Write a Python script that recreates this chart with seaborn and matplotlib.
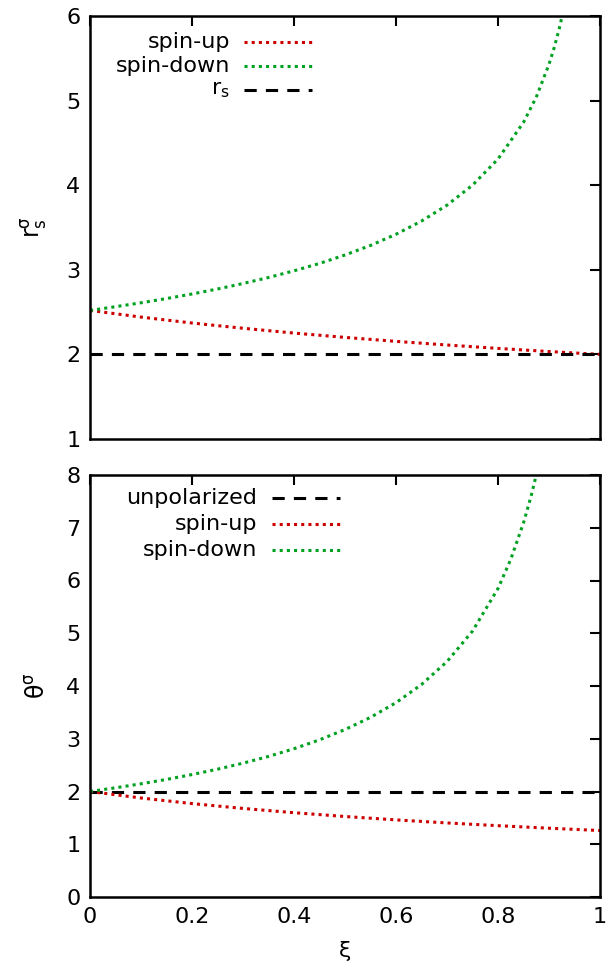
import matplotlib
matplotlib.use("Agg")
import matplotlib.pyplot as plt
import seaborn as sns

# values
xi_up = [0.0, 0.1, 0.2, 0.3, 0.4, 0.5, 0.6, 0.7, 0.8, 0.9, 1.0]
rs_up = [2.520, 2.441, 2.371, 2.309, 2.252, 2.201, 2.154, 2.111, 2.071, 2.034, 2.000]

xi_down = [0.0, 0.05, 0.1, 0.15, 0.2, 0.25, 0.3, 0.35, 0.4, 0.45, 0.5, 0.55, 0.6,
           0.65, 0.7, 0.75, 0.8, 0.85, 0.875, 0.9, 0.91, 0.92, 0.93]
rs_down = [2.520, 2.564, 2.610, 2.660, 2.714, 2.773, 2.838, 2.909, 2.988, 3.075, 3.175,
           3.288, 3.420, 3.576, 3.764, 4.000, 4.309, 4.743, 5.040, 5.429, 5.622, 5.848, 6.113]

xi_line = [0.0, 1.0]
rs_line = [2.0, 2.0]

th_up = [2.000, 1.877, 1.771, 1.679, 1.598, 1.526, 1.462, 1.404, 1.352, 1.304, 1.260]

xi_thdown = [0.0, 0.05, 0.1, 0.15, 0.2, 0.25, 0.3, 0.35, 0.4, 0.45, 0.5, 0.55, 0.6,
             0.65, 0.7, 0.75, 0.8, 0.825, 0.85, 0.865, 0.875, 0.88]
th_down = [2.000, 2.070, 2.146, 2.229, 2.321, 2.423, 2.537, 2.665, 2.811, 2.979, 3.175,
           3.405, 3.684, 4.028, 4.463, 5.040, 5.848, 6.401, 7.093, 7.602, 8.000, 8.224]
th_line = [2.0, 2.0]

xticks = [0, 0.2, 0.4, 0.6, 0.8, 1]
xticklabels = ["0", "0.2", "0.4", "0.6", "0.8", "1"]

sns.set_style("white")
plt.rcParams["font.family"] = ["DejaVu Sans"]
plt.rcParams["font.size"] = 16
plt.rcParams["text.color"] = "black"
plt.rcParams["axes.labelcolor"] = "black"

RED = "#cc0000"
GREEN = "#00a020"
LW = 2.2
dotted = (0, (1, 1.35))
dashed = (0, (4, 3))

fig = plt.figure(figsize=(6.1, 9.75), dpi=100)
ax1 = fig.add_axes([90 / 610, 1 - 439 / 975, 510 / 610, 423 / 975])
ax2 = fig.add_axes([90 / 610, 1 - 897 / 975, 510 / 610, 422 / 975])


def style(ax, ylim, yticks):
    ax.set_xlim(0, 1)
    ax.set_ylim(*ylim)
    ax.set_xticks(xticks)
    ax.set_yticks(yticks)
    for s in ax.spines.values():
        s.set_linewidth(1.8)
        s.set_color("black")
        s.set_visible(True)
    ax.tick_params(direction="in", length=7, width=1.5, top=True, right=True,
                   labelsize=16, pad=7, colors="black")


def key(ax, rows, xt, x0, x1, y0, dy):
    for i, (label, color, ls) in enumerate(rows):
        y = y0 - i * dy
        ax.text(xt, y, label, transform=ax.transAxes, ha="right", va="center", fontsize=16)
        ax.plot([x0, x1], [y, y], transform=ax.transAxes, color=color, linestyle=ls, lw=LW)


# top panel
sns.lineplot(x=xi_up, y=rs_up, ax=ax1, color=RED, linestyle=dotted, lw=LW)
sns.lineplot(x=xi_down, y=rs_down, ax=ax1, color=GREEN, linestyle=dotted, lw=LW)
sns.lineplot(x=xi_line, y=rs_line, ax=ax1, color="black", linestyle=dashed, lw=LW)
style(ax1, (1, 6), [1, 2, 3, 4, 5, 6])
ax1.set_xticklabels([])
ax1.set_ylabel(r"$\mathregular{r_s^σ}$", fontsize=17, labelpad=12)
key(ax1, [("spin-up", RED, dotted), ("spin-down", GREEN, dotted),
          (r"$\mathregular{r_s}$", "black", dashed)],
    xt=(230 - 90) / 510, x0=(244 - 90) / 510, x1=(312 - 90) / 510,
    y0=(439 - 42) / 423, dy=24 / 423)

# bottom panel
sns.lineplot(x=xi_line, y=th_line, ax=ax2, color="black", linestyle=dashed, lw=LW)
sns.lineplot(x=xi_up, y=th_up, ax=ax2, color=RED, linestyle=dotted, lw=LW)
sns.lineplot(x=xi_thdown, y=th_down, ax=ax2, color=GREEN, linestyle=dotted, lw=LW)
style(ax2, (0, 8), [0, 1, 2, 3, 4, 5, 6, 7, 8])
ax2.set_xticklabels(xticklabels)
ax2.set_ylabel(r"$\mathregular{θ^σ}$", fontsize=17, labelpad=12)
ax2.set_xlabel("ξ", fontsize=16, labelpad=10)
key(ax2, [("unpolarized", "black", dashed), ("spin-up", RED, dotted),
          ("spin-down", GREEN, dotted)],
    xt=(257 - 90) / 510, x0=(272 - 90) / 510, x1=(340 - 90) / 510,
    y0=(897 - 498) / 422, dy=26 / 422)

fig.savefig("out.png", dpi=100)
